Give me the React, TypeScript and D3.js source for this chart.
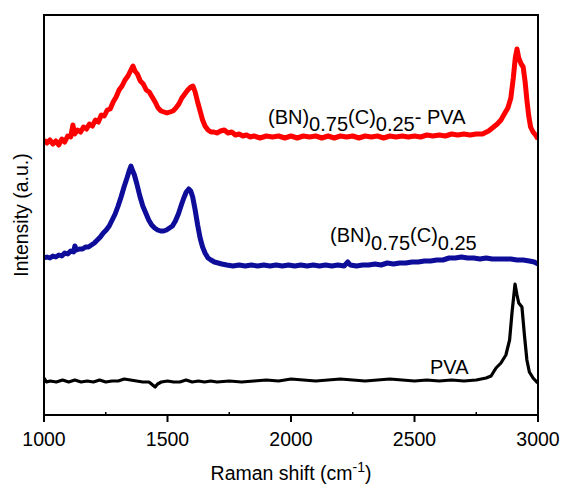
import React from 'react';
import * as d3 from 'd3';

// Raman shift (cm-1), intensity (a.u., offset stacked)
const redSeries: [number, number][] = [
  [1000,275],[1012,272],[1024,275],[1036,271],[1048,274],[1060,270],[1072,276],[1084,273],[1096,279],[1108,278],
  [1117,290],[1124,281],[1136,285],[1148,283],[1160,288],[1172,286],[1184,291],[1196,289],[1208,295],[1220,293],
  [1232,300],[1244,299],[1256,305],[1268,306],[1280,313],[1292,318],[1304,325],[1316,329],[1328,335],[1340,339],
  [1352,345],[1360,349],[1368,344],[1378,341],[1390,334],[1402,331],[1414,325],[1426,323],[1438,318],[1450,313],
  [1462,307],[1474,304],[1486,303],[1498,302],[1510,303],[1522,304],[1534,307],[1546,311],[1558,317],[1570,321],
  [1582,325],[1594,328],[1603,329],[1612,323],[1622,313],[1632,304],[1642,295],[1652,289],[1664,285],[1676,283],
  [1688,283],[1700,282],[1715,284],[1730,285],[1745,282],[1760,283],[1775,280],[1790,281],[1805,279],[1820,280],
  [1835,278],[1850,279],[1875,277],[1900,279],[1925,278],[1950,279],[1975,277],[2000,279],[2025,277],[2050,279],
  [2075,278],[2100,279],[2125,277],[2150,279],[2175,277],[2200,279],[2225,278],[2250,279],[2275,277],[2300,279],
  [2325,278],[2350,279],[2375,277],[2400,279],[2425,278],[2450,279],[2475,278],[2500,279],[2525,278],[2550,280],
  [2575,279],[2600,280],[2625,279],[2650,281],[2675,280],[2700,281],[2725,280],[2750,281],[2775,281],[2800,284],
  [2820,288],[2835,291],[2850,295],[2866,302],[2878,307],[2890,317],[2900,337],[2908,357],[2915,366],[2922,357],
  [2932,351],[2940,348],[2948,333],[2955,315],[2962,300],[2970,288],[2980,283],[2990,280],[3000,276],
];

const blueSeries: [number, number][] = [
  [1000,157],[1012,158],[1024,157],[1036,159],[1048,158],[1060,160],[1072,159],[1084,162],[1096,161],[1108,164],
  [1120,163],[1125,169],[1132,165],[1144,166],[1156,166],[1168,168],[1180,168],[1192,170],[1204,172],[1216,175],
  [1228,178],[1240,182],[1252,185],[1264,189],[1276,195],[1288,201],[1300,209],[1312,218],[1324,228],[1336,237],
  [1346,245],[1352,249],[1358,245],[1366,240],[1376,231],[1388,219],[1400,209],[1412,202],[1424,195],[1436,190],
  [1448,187],[1460,185],[1472,184],[1484,184],[1496,185],[1508,187],[1520,189],[1532,194],[1544,201],[1556,210],
  [1566,217],[1576,223],[1586,226],[1594,224],[1602,218],[1612,205],[1622,190],[1632,177],[1642,168],[1652,162],
  [1664,157],[1676,155],[1690,153],[1705,152],[1720,151],[1740,150],[1765,149],[1790,150],[1815,149],[1840,150],
  [1865,149],[1890,150],[1915,149],[1940,150],[1965,149],[1990,150],[2015,149],[2040,150],[2065,149],[2090,150],
  [2115,149],[2140,150],[2165,149],[2190,150],[2215,149],[2230,153],[2240,150],[2265,149],[2290,150],[2315,150],
  [2340,151],[2365,150],[2390,152],[2415,151],[2440,152],[2465,152],[2490,153],[2515,153],[2540,154],[2565,154],
  [2590,155],[2615,155],[2640,157],[2665,157],[2690,158],[2715,157],[2740,157],[2765,156],[2790,157],[2815,156],
  [2840,156],[2865,156],[2890,156],[2915,155],[2940,155],[2965,154],[2985,153],[3000,151],
];

const pvaSeries: [number, number][] = [
  [1000,37],[1010,33],[1025,34],[1050,33],[1075,35],[1100,33],[1125,35],[1150,33],[1175,34],[1200,33],
  [1225,35],[1250,33],[1275,34],[1300,34],[1325,36],[1350,35],[1375,34],[1400,33],[1425,33],[1440,30],
  [1450,28],[1460,31],[1475,33],[1500,34],[1525,33],[1550,33],[1575,35],[1600,33],[1625,34],[1650,33],
  [1675,34],[1700,33],[1750,34],[1800,33],[1850,34],[1900,35],[1950,34],[2000,36],[2050,35],[2100,34],
  [2150,35],[2200,36],[2250,35],[2300,34],[2350,35],[2400,36],[2450,35],[2500,34],[2550,35],[2600,34],
  [2650,35],[2700,34],[2750,35],[2790,37],[2810,39],[2830,47],[2850,52],[2870,60],[2885,75],[2895,103],
  [2907,131],[2915,120],[2922,112],[2935,108],[2945,80],[2955,55],[2965,43],[2980,37],[2995,33],[3000,32],
];

const xMajorTicks = [1000, 1500, 2000, 2500, 3000];
const xMinorTicks = [1250, 1750, 2250, 2750];

const FONT = '"Liberation Sans", Arial, sans-serif';

export default function App() {
  const W = 563, H = 484;
  const left = 44, right = 538, top = 15, bottom = 415;
  const x = d3.scaleLinear().domain([1000, 3000]).range([left, right]);
  const y = d3.scaleLinear().domain([0, 400]).range([bottom, top]);
  const line = d3.line<[number, number]>().x(d => x(d[0])).y(d => y(d[1]));

  return (
    <svg width={W} height={H} style={{ position: 'absolute', left: 0, top: 0, background: '#fff' }}
      fontFamily={FONT}>
      <defs>
        <clipPath id="plotclip">
          <rect x={left} y={top} width={right - left} height={bottom - top} />
        </clipPath>
      </defs>
      <g clipPath="url(#plotclip)" fill="none" strokeLinejoin="round">
        <path d={line(pvaSeries) || ''} stroke="#000" strokeWidth={3.2} />
        <path d={line(blueSeries) || ''} stroke="#0d0d9a" strokeWidth={5} />
        <path d={line(redSeries) || ''} stroke="#ff0000" strokeWidth={5} />
      </g>
      <rect x={left} y={top} width={right - left} height={bottom - top} fill="none" stroke="#000" strokeWidth={2} />
      {xMajorTicks.map(t => (
        <g key={t}>
          <line x1={x(t)} x2={x(t)} y1={bottom} y2={bottom + 7} stroke="#000" strokeWidth={2} />
          <text x={x(t)} y={446} textAnchor="middle" fontSize={19.5}>{t}</text>
        </g>
      ))}
      {xMinorTicks.map(t => (
        <line key={t} x1={x(t)} x2={x(t)} y1={bottom} y2={bottom - 3} stroke="#000" strokeWidth={1.5} />
      ))}
      <text x={(left + right) / 2} y={480} textAnchor="middle" fontSize={19.5}>
        Raman shift (cm<tspan dy={-8} fontSize={14}>-1</tspan><tspan dy={8}>)</tspan>
      </text>
      <text transform={`translate(28,${(top + bottom) / 2}) rotate(-90)`} textAnchor="middle" fontSize={19.5}>
        Intensity (a.u.)
      </text>
      <text x={268} y={124} fontSize={20}>
        (BN)<tspan dy={7}>0.75</tspan><tspan dy={-7}>(C)</tspan><tspan dy={7}>0.25</tspan><tspan dy={-7}>- PVA</tspan>
      </text>
      <text x={330} y={242} fontSize={20}>
        (BN)<tspan dy={8}>0.75</tspan><tspan dy={-8}>(C)</tspan><tspan dy={8}>0.25</tspan>
      </text>
      <text x={430} y={374} fontSize={20}>PVA</text>
    </svg>
  );
}
